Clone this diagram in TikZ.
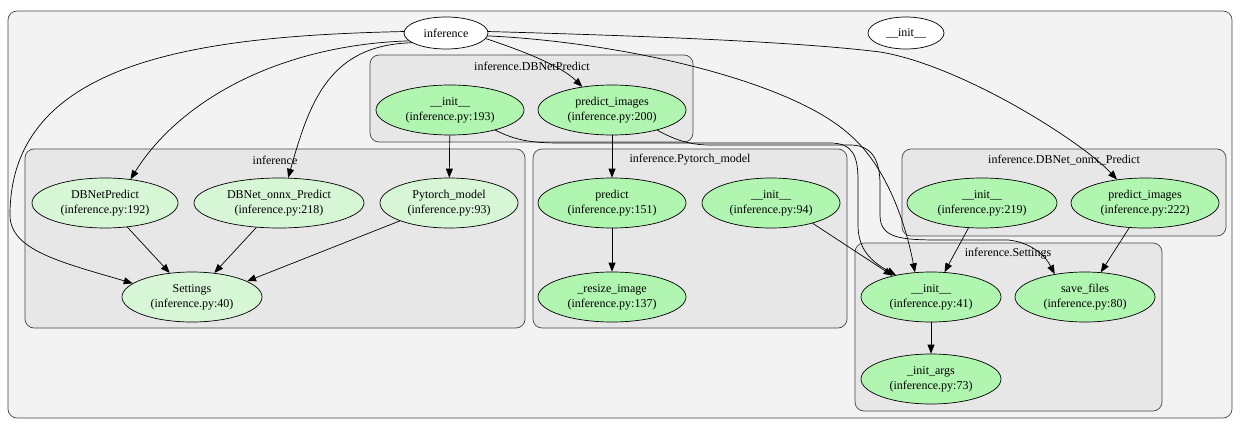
\documentclass[tikz,border=0pt]{standalone}
\usepackage{fontspec}
\setmainfont{Liberation Serif}
\usetikzlibrary{arrows.meta,shapes.geometric}

\definecolor{outerfill}{RGB}{243,243,243}
\definecolor{clusterfill}{RGB}{231,231,231}
\definecolor{clusterline}{RGB}{70,70,70}
\definecolor{funcfill}{RGB}{214,246,214}
\definecolor{methfill}{RGB}{176,245,176}

\tikzset{
  lbl/.style={font=\fontsize{12}{15}\selectfont, inner sep=0pt},
  topnode/.style={ellipse, draw=black, line width=0.7pt, fill=white, inner sep=0pt,
    minimum height=32, font=\fontsize{12}{15}\selectfont},
  func/.style={ellipse, draw=black, line width=0.7pt, fill=funcfill, inner sep=0pt,
    minimum height=50, align=center, font=\fontsize{12}{15}\selectfont},
  meth/.style={func, fill=methfill},
  outerbox/.style={draw=clusterline, line width=0.7pt, fill=outerfill, rounded corners=9pt},
  clusterbox/.style={draw=clusterline, line width=0.7pt, fill=clusterfill, rounded corners=9pt},
  link/.style={draw=black, line width=0.7pt, -{Triangle[length=9pt,width=7pt]}},
}

\begin{document}
\begin{tikzpicture}[x=1pt,y=-1pt]
\useasboundingbox (0,0) rectangle (1241,428);
\fill[white] (0,0) rectangle (1241,428);

% module cluster and its class / function clusters
\draw[outerbox] (8,11) rectangle (1232,418);
\draw[clusterbox] (370,55) rectangle (693,142);
\draw[clusterbox] (25,149) rectangle (525,328);
\draw[clusterbox] (533,149) rectangle (847,328);
\draw[clusterbox] (902,149) rectangle (1226,236);
\draw[clusterbox] (855,243) rectangle (1162,411);

\node[lbl] (cDB)  at (532,66)  {inference.DBNetPredict};
\node[lbl] (cInf) at (275,160) {inference};
\node[lbl] (cPy)  at (690,160) {inference.Pytorch\_model};
\node[lbl] (cOn)  at (1064,160) {inference.DBNet\_onnx\_Predict};
\node[lbl] (cSet) at (1008,254) {inference.Settings};

% nodes
\node[topnode, minimum width=84] (inf)   at (446,33) {inference};
\node[topnode, minimum width=76] (tinit) at (906,33) {\_\_init\_\_};

\node[meth, minimum width=148] (dinit) at (450,110) {\_\_init\_\_\\(inference.py:193)};
\node[meth, minimum width=148] (dpred) at (612,110) {predict\_images\\(inference.py:200)};

\node[func, minimum width=146] (dbnp) at (105,203) {DBNetPredict\\(inference.py:192)};
\node[func, minimum width=170] (onnx) at (279,203) {DBNet\_onnx\_Predict\\(inference.py:218)};
\node[func, minimum width=138] (ptm)  at (449,203) {Pytorch\_model\\(inference.py:93)};
\node[func, minimum width=140] (sett) at (192,297) {Settings\\(inference.py:40)};

\node[meth, minimum width=148] (ppred) at (612,203) {predict\\(inference.py:151)};
\node[meth, minimum width=138] (pinit) at (771,203) {\_\_init\_\_\\(inference.py:94)};
\node[meth, minimum width=148] (presz) at (612,297) {\_resize\_image\\(inference.py:137)};

\node[meth, minimum width=150] (oinit) at (982,203) {\_\_init\_\_\\(inference.py:219)};
\node[meth, minimum width=148] (opred) at (1145,203) {predict\_images\\(inference.py:222)};

\node[meth, minimum width=140] (sinit) at (931,297) {\_\_init\_\_\\(inference.py:41)};
\node[meth, minimum width=140] (ssave) at (1085,297) {save\_files\\(inference.py:80)};
\node[meth, minimum width=140] (sargs) at (931,379) {\_init\_args\\(inference.py:73)};

% calls from the module level
\draw[link] (inf.178) .. controls (200,36) and (10,60) .. (10,215)
  .. controls (10,250) and (60,262) .. (sett.167);
\draw[link] (inf.192) .. controls (280,45) and (180,100) .. (dbnp.43);
\draw[link] (inf.196) .. controls (330,45) and (310,100) .. (onnx.70);
\draw[link] (inf.-8) .. controls (520,50) and (560,65) .. (dpred.142);
\draw[link] (inf.2) .. controls (650,36) and (800,42) .. (880,52)
  .. controls (960,65) and (1080,140) .. (opred.140);
\draw[link] (inf.-4) .. controls (620,42) and (790,80) .. (850,135)
  .. controls (885,165) and (905,220) .. (sinit.123);

% DBNetPredict methods
\draw[link] (dinit) -- (ptm);
\draw[link] (dpred) -- (ppred);
\draw[link] (dinit.-24) .. controls (515,140) and (530,143) .. (560,143) -- (830,143)
  .. controls (852,143) and (858,155) .. (858,180) -- (858,225)
  .. controls (858,250) and (872,262) .. (sinit.148);
\draw[link] (dpred.-24) .. controls (675,140) and (690,145) .. (710,145) -- (850,145)
  .. controls (872,145) and (880,160) .. (880,185) -- (880,215)
  .. controls (880,238) and (900,240) .. (940,240) -- (1008,240)
  .. controls (1030,242) and (1045,255) .. (ssave.143);

% module-level functions
\draw[link] (dbnp) -- (sett);
\draw[link] (onnx) -- (sett);
\draw[link] (ptm.200) -- (sett.16);

% Pytorch_model methods
\draw[link] (ppred) -- (presz);
\draw[link] (pinit.-26) -- (sinit.151);

% DBNet_onnx_Predict methods
\draw[link] (oinit) -- (sinit);
\draw[link] (opred) -- (ssave);

% Settings methods
\draw[link] (sinit) -- (sargs);
\end{tikzpicture}
\end{document}
